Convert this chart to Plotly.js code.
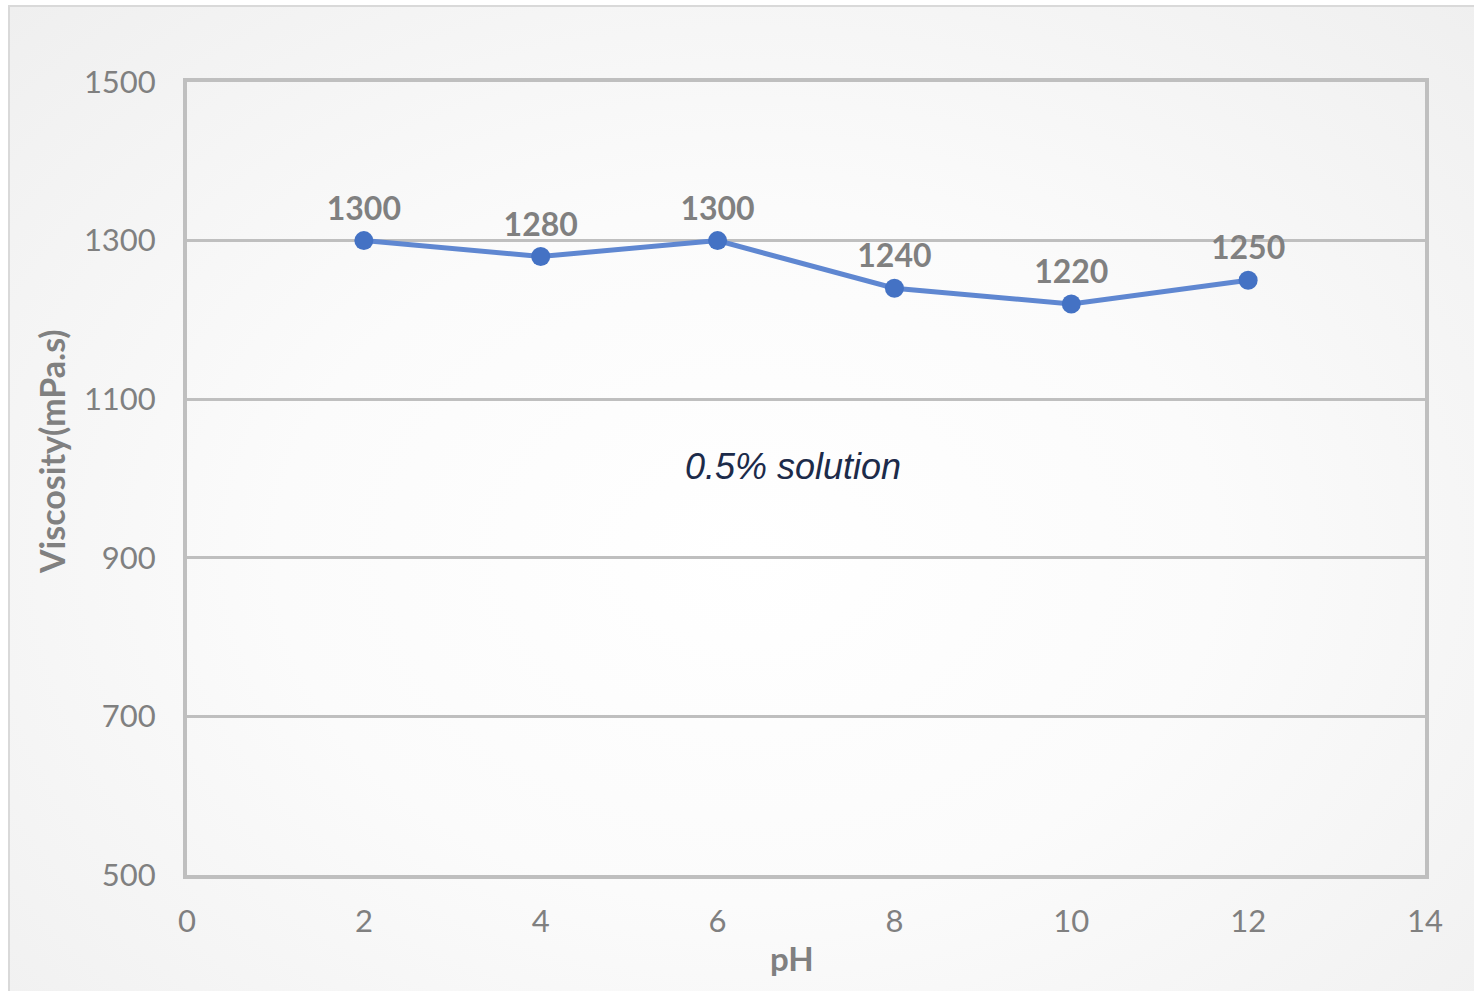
<!DOCTYPE html>
<html>
<head>
<meta charset="utf-8">
<script src="https://cdn.plot.ly/plotly-3.0.1.min.js"></script>
<style>
html,body{margin:0;padding:0;width:1474px;height:991px;overflow:hidden;}
#bg{position:absolute;left:8px;top:5px;width:1480px;height:1000px;box-sizing:border-box;border:2px solid #d9d9d9;
background:radial-gradient(ellipse at 50% 55%, #ffffff 0%, #fbfbfb 45%, #efefef 100%);}
#chart{position:absolute;left:0;top:0;width:1474px;height:991px;}
</style>
</head>
<body>
<div id="bg"></div>
<div id="chart"></div>
<script>
const phValues = [2, 4, 6, 8, 10, 12];
const viscosity = [1300, 1280, 1300, 1240, 1220, 1250];
const valueLabels = viscosity.map(v => String(v));
const yTicks = [500, 700, 900, 1100, 1300, 1500];
const xTicks = [0, 2, 4, 6, 8, 10, 12, 14];
const noteText = "0.5% solution";
const noteX = 6.85;
const noteY = 1015;
const xTitle = "pH";
const yTitle = "Viscosity(mPa.s)";

const trace = {
  x: phValues,
  y: viscosity,
  mode: 'lines+markers+text',
  text: valueLabels,
  textposition: 'top center',
  textfont: {family: 'Lato, sans-serif', size: 32, color: '#808080', weight: 'bold'},
  line: {color: '#5f87d1', width: 5},
  marker: {color: '#4472c4', size: 19},
  cliponaxis: false,
  hoverinfo: 'skip'
};

const layout = {
  width: 1474, height: 991,
  margin: {l: 187, r: 49, t: 82, b: 116},
  paper_bgcolor: 'rgba(0,0,0,0)',
  plot_bgcolor: 'rgba(0,0,0,0)',
  showlegend: false,
  font: {family: 'Lato, sans-serif', color: '#808080'},
  xaxis: {
    range: [0, 14], tickvals: xTicks, ticktext: xTicks.map(String),
    showgrid: false, zeroline: false,
    showline: true, linecolor: '#bfbfbf', linewidth: 4, mirror: true,
    ticks: 'outside', ticklen: 16, tickcolor: 'rgba(0,0,0,0)',
    tickfont: {size: 31, color: '#808080'}
  },
  yaxis: {
    range: [500, 1500], tickvals: yTicks, ticktext: yTicks.map(String),
    showgrid: true, gridcolor: '#bfbfbf', gridwidth: 3, zeroline: false,
    showline: true, linecolor: '#bfbfbf', linewidth: 4, mirror: true,
    ticks: 'outside', ticklen: 21, tickcolor: 'rgba(0,0,0,0)',
    tickfont: {size: 31, color: '#808080'}
  },
  annotations: [
    {
      x: noteX, y: noteY, xref: 'x', yref: 'y', text: noteText, showarrow: false,
      font: {family: 'Liberation Sans, Arial, sans-serif', size: 36, color: '#1c2b4a', style: 'italic'}
    },
    {
      x: (792 - 187) / 1238, y: -(958 - 875) / 793, xref: 'paper', yref: 'paper',
      text: xTitle, showarrow: false, xanchor: 'center', yanchor: 'middle',
      font: {family: 'Lato, sans-serif', size: 33, color: '#808080', weight: 'bold'}
    },
    {
      x: -(187 - 52) / 1238, y: (875 - 452) / 793, xref: 'paper', yref: 'paper',
      text: yTitle, showarrow: false, textangle: -90, xanchor: 'center', yanchor: 'middle',
      font: {family: 'Lato, sans-serif', size: 34, color: '#808080', weight: 'bold'}
    }
  ]
};

Plotly.newPlot('chart', [trace], layout, {displayModeBar: false, staticPlot: true});
</script>
</body>
</html>
